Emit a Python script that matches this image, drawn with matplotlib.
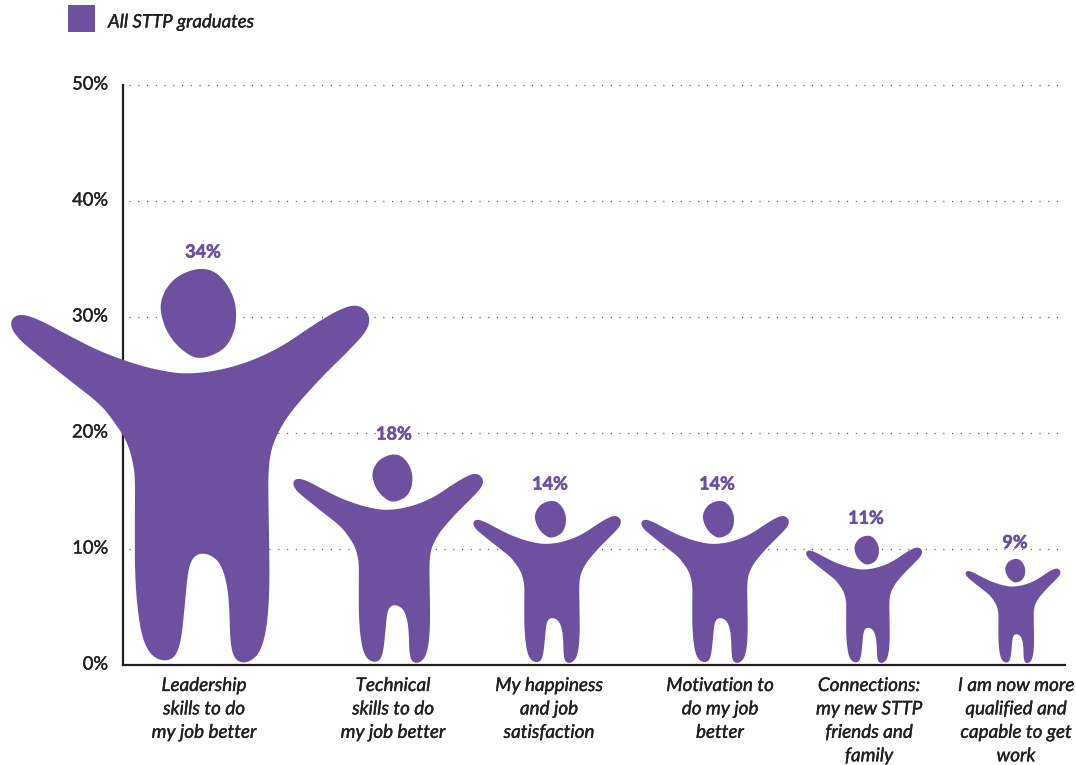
import numpy as np
import matplotlib
matplotlib.use("Agg")
import matplotlib.pyplot as plt
from matplotlib.path import Path
from matplotlib.patches import PathPatch, Rectangle
from matplotlib.transforms import ScaledTranslation
import matplotlib.patheffects as pe

plt.rcParams['font.family'] = ['Lato', 'DejaVu Sans']

categories = ["Leadership\nskills to do\nmy job better", "Technical\nskills to do\nmy job better",
              "My happiness\nand job\nsatisfaction", "Motivation to\ndo my job\nbetter",
              "Connections:\nmy new STTP\nfriends and\nfamily", "I am now more\nqualified and\ncapable to get\nwork"]
values = [34, 18, 14, 14, 11, 9]
value_labels = ["34%", "18%", "14%", "14%", "11%", "9%"]
y_ticks = [0, 10, 20, 30, 40, 50]
y_tick_labels = ["0%", "10%", "20%", "30%", "40%", "50%"]

figure_x = [190, 388, 547, 715, 864, 1013]
value_x = [203, 394, 550, 717, 866, 1015]
value_y = [35.6, 19.9, 15.6, 15.6, 12.65, 10.55]
label_x = [204, 393, 549, 720, 869, 1016]

PURPLE = "#6D51A0"
DARK = "#231F20"
W, H = 1076, 765
LEFT, RIGHT, TOP, BOTTOM = 123, 1065, 85, 665

# Person glyph outline, traced once, then scaled per value
BODY = [(32,255),(45,230),(75,227),(130,248),(200,285),(300,335),(400,372),(480,393),(560,403),(660,392),
        (760,362),(850,318),(930,265),(1000,222),(1060,198),(1095,210),(1110,240),(1095,280),(1040,340),
        (960,420),(880,510),(840,570),(815,630),(806,700),(806,800),(808,930),(808,1050),(800,1160),
        (780,1235),(750,1265),(725,1270),(703,1255),(692,1200),(688,1100),(680,1030),(660,970),(630,945),
        (600,940),(578,955),(565,1000),(555,1100),(545,1190),(530,1245),(510,1262),(485,1262),(455,1245),
        (430,1195),(415,1110),(407,1000),(406,850),(406,720),(398,660),(380,605),(345,550),(300,495),
        (200,415),(100,335),(55,295)]
HEAD = [(483,210),(492,165),(520,125),(560,100),(605,90),(645,100),(680,135),(702,180),(709,225),(703,275),
        (680,320),(645,345),(600,357),(565,345),(525,310),(497,265)]


def catmull_dense(points, per_seg=16):
    p = np.array(points, float)
    n = len(p)
    out = []
    for i in range(n):
        p0, p1, p2, p3 = p[(i - 1) % n], p[i], p[(i + 1) % n], p[(i + 2) % n]
        for t in np.linspace(0, 1, per_seg, endpoint=False):
            out.append(0.5 * (2 * p1 + (p2 - p0) * t + (2 * p0 - 5 * p1 + 4 * p2 - p3) * t ** 2
                              + (3 * p1 - p0 - 3 * p2 + p3) * t ** 3))
    return np.array(out)


def smooth_outline(points, sigma=16.0, step=2.0):
    d = catmull_dense(points)
    closed = np.vstack([d, d[:1]])
    s = np.r_[0, np.cumsum(np.hypot(*np.diff(closed, axis=0).T))]
    m = int(s[-1] / step)
    q = np.linspace(0, s[-1], m, endpoint=False)
    x, y = np.interp(q, s, closed[:, 0]), np.interp(q, s, closed[:, 1])
    k = np.arange(m)
    k = np.minimum(k, m - k) * step
    g = np.exp(-0.5 * (k / sigma) ** 2)
    g /= g.sum()
    sx = np.fft.ifft(np.fft.fft(x) * np.fft.fft(g)).real
    sy = np.fft.ifft(np.fft.fft(y) * np.fft.fft(g)).real
    return np.column_stack([(sx - 571) / 1180, (1270 - sy) / 1180])


fig = plt.figure(figsize=(W / 100, H / 100), dpi=100)
ax = fig.add_axes([LEFT / W, 1 - BOTTOM / H, (RIGHT - LEFT) / W, (BOTTOM - TOP) / H])
ax.set_xlim(LEFT, RIGHT)
ax.set_ylim(0, 50)
per_pct = (BOTTOM - TOP) / 50  # x units (pixels) per one percent, keeps the glyph's proportions

for s in ("top", "right"):
    ax.spines[s].set_visible(False)
for s in ("left", "bottom"):
    ax.spines[s].set_linewidth(1.6)
    ax.spines[s].set_color(DARK)
    ax.spines[s].set_zorder(2)

ax.set_yticks(y_ticks)
ax.set_yticklabels(y_tick_labels, fontsize=13.2, color=DARK)
ax.set_xticks([])
ax.tick_params(axis='y', length=0, pad=10.8)
stroke = [pe.withStroke(linewidth=0.25, foreground=DARK)]
up = ScaledTranslation(0, 2 / 100, fig.dpi_scale_trans)
for tl in ax.get_yticklabels():
    tl.set_transform(tl.get_transform() + up)
    tl.set_path_effects(stroke)

for t in y_ticks[1:]:
    ax.plot([129, RIGHT], [t, t], color="#555555", lw=0.9, ls=(0, (0.9, 6.1)), zorder=1, clip_on=False)

body_u, head_u = smooth_outline(BODY), smooth_outline(HEAD, sigma=8.0)
for cx, v, lab, vx, vy, cat, lx in zip(figure_x, values, value_labels, value_x, value_y, categories, label_x):
    verts, codes = [], []
    for shape in (body_u, head_u):
        scaled = np.column_stack([cx + shape[:, 0] * v * per_pct, 0.15 + shape[:, 1] * v])
        verts += list(scaled) + [scaled[0]]
        codes += [Path.MOVETO] + [Path.LINETO] * (len(scaled) - 1) + [Path.CLOSEPOLY]
    ax.add_patch(PathPatch(Path(np.array(verts), codes), facecolor=PURPLE, edgecolor='none', zorder=3, clip_on=False))
    ax.text(vx, vy, lab, color=PURPLE, fontsize=13, fontweight='bold', ha='center', va='center', zorder=4,
            path_effects=[pe.withStroke(linewidth=0.45, foreground=PURPLE)])
    ax.annotate(cat, xy=(lx, 0), xytext=(0, -12), textcoords='offset pixels', ha='center', va='top',
                fontsize=13.6, style='italic', color=DARK, linespacing=1.46, annotation_clip=False,
                path_effects=stroke)

fig.add_artist(Rectangle((68 / W, 1 - 32 / H), 27 / W, 27 / H, transform=fig.transFigure, facecolor=PURPLE, edgecolor='none'))
fig.text(108 / W, 1 - 22 / H, "All STTP graduates", fontsize=13.4, style='italic', color=DARK, va='center', ha='left',
         path_effects=stroke)

fig.savefig("out.png", dpi=100)
